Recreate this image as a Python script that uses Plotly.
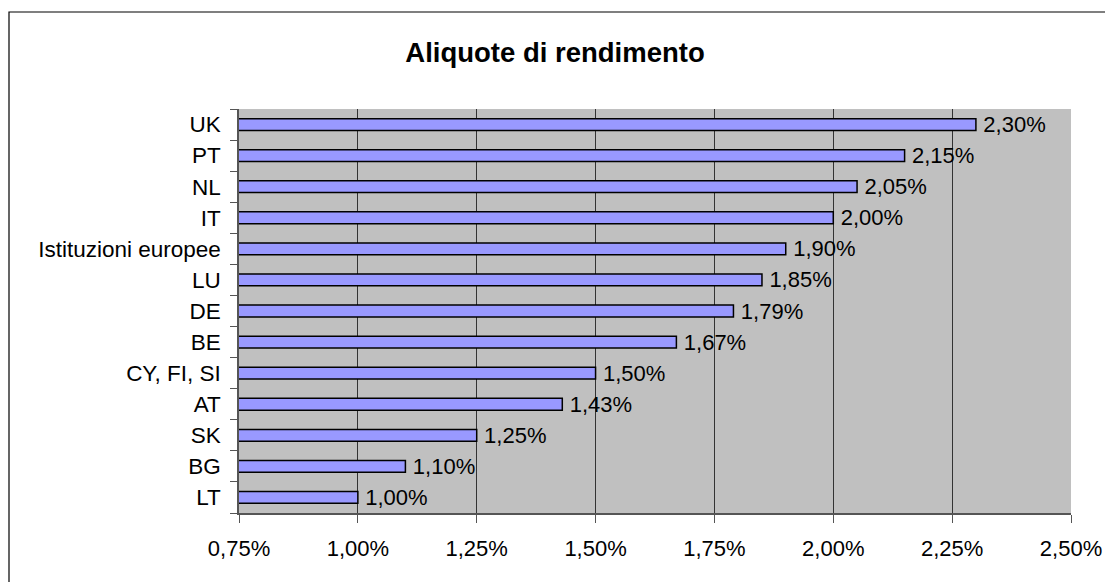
import plotly.graph_objects as go

categories = ["UK", "PT", "NL", "IT", "Istituzioni europee", "LU", "DE", "BE",
              "CY, FI, SI", "AT", "SK", "BG", "LT"]
values_pct = [2.30, 2.15, 2.05, 2.00, 1.90, 1.85, 1.79, 1.67, 1.50, 1.43, 1.25, 1.10, 1.00]
tick_vals_pct = [0.75, 1.00, 1.25, 1.50, 1.75, 2.00, 2.25, 2.50]

# plot from bottom (LT) to top (UK)
cats = categories[::-1]
vals = [v / 100 for v in values_pct[::-1]]
labels = ["\u2009" + f"{v:.2f}%".replace(".", ",") for v in values_pct[::-1]]

FONT = "Liberation Sans, Arial, sans-serif"
OFF = 8  # page body margin
W, H = 1113 - OFF, 582 - OFF
L, R, T, B = 239 - OFF, 42, 109 - OFF, 69
PW = W - L - R
PH = H - T - B

fig = go.Figure(go.Bar(
    y=cats, x=vals, orientation="h",
    marker=dict(color="#9999FF", line=dict(color="black", width=1.5)),
    text=labels, textposition="outside", constraintext="none",
    textfont=dict(size=22, color="black", family=FONT),
    cliponaxis=False,
))

fig.update_layout(
    width=W, height=H,
    margin=dict(l=L, r=R, t=T, b=B),
    paper_bgcolor="white", plot_bgcolor="#C0C0C0",
    separators=",.",
    bargap=0.62,
    showlegend=False,
    font=dict(family=FONT, size=20, color="black"),
    title=dict(text="<b>Aliquote di rendimento</b>", x=(555 - OFF) / W, xref="container",
               xanchor="center", y=1 - (52 - OFF) / H, yanchor="middle", yref="container",
               font=dict(size=27.5, family=FONT, color="black")),
    xaxis=dict(range=[0.0075, 0.025], tickvals=[t / 100 for t in tick_vals_pct], tickformat=".2%",
               showgrid=True, gridcolor="#333333", gridwidth=1,
               showline=True, linecolor="#555555", linewidth=1.5,
               ticks="outside", ticklen=8, tickcolor="#555555",
               ticklabelstandoff=7, zeroline=False,
               tickfont=dict(size=22, family=FONT)),
    yaxis=dict(type="category", categoryorder="array", categoryarray=cats,
               showline=True, linecolor="#555555", linewidth=1.5,
               ticks="outside", ticklen=7, tickcolor="#555555", tickson="boundaries",
               ticklabelstandoff=12, showgrid=False,
               tickfont=dict(size=22.5, family=FONT)),
)

# outer chart border
x0 = (9 - 239) / PW
x1 = (1112 - 239) / PW
y1 = (513 - 12) / PH
fig.add_shape(type="rect", xref="paper", yref="paper", x0=x0, x1=x1, y0=-0.3, y1=y1,
              line=dict(color="black", width=1.2), fillcolor="rgba(0,0,0,0)", layer="below")

fig.write_html("out.html")
